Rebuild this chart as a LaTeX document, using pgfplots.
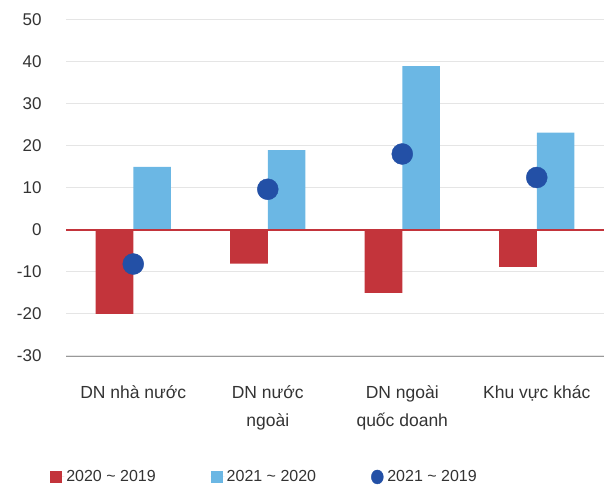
\documentclass[border=0pt]{standalone}
\usepackage{pgfplots}
\pgfplotsset{compat=1.18}
\usepackage{fontspec}
\setmainfont{Liberation Sans}
\definecolor{cred}{HTML}{C3343B}
\definecolor{cblue}{HTML}{6BB7E4}
\definecolor{cdot}{HTML}{2350A6}
\definecolor{ctext}{HTML}{333333}
\begin{document}
\begin{tikzpicture}[x=1bp,y=1bp]
\path[use as bounding box] (0,0) rectangle (604,485);
\begin{axis}[
  at={(66bp,129bp)}, anchor=south west,
  scale only axis, width=538bp, height=336bp,
  xmin=-0.5, xmax=3.5, ymin=-30, ymax=50,
  ytick={-30,-20,...,50},
  xtick={0,1,2,3},
  xticklabels={DN nhà nước, DN nước\\ngoài, DN ngoài\\quốc doanh, Khu vực khác},
  xticklabel style={align=center, yshift=-26bp, font=\fontsize{17.5bp}{28bp}\selectfont, text=ctext, anchor=north},
  yticklabel style={xshift=-21bp, font=\fontsize{17bp}{19bp}\selectfont, text=ctext},
  /pgf/number format/assume math mode=true,
  major tick length=0pt,
  axis y line*=left,
  y axis line style={draw=none},
  axis x line*=bottom,
  x axis line style={draw=gray!80, -},
  ymajorgrids,
  grid style={draw=black!10, line width=1bp},
  legend columns=3,
  legend style={draw=none, inner sep=1bp, at={(0.369,-0.36)}, anchor=center,
    font=\fontsize{16bp}{19bp}\selectfont, text=ctext,
    /tikz/every even column/.append style={column sep=53bp}},
  legend image code/.code={\fill[#1] (0bp,-6bp) rectangle (12bp,6bp); \path[draw=none] (0bp,0bp) -- (14bp,0bp);},
]
\addplot[ybar, bar width=0.28, bar shift=0pt, fill=cred, draw=none]
  coordinates {(-0.14,-20) (0.86,-8) (1.86,-15) (2.86,-8.8)};
\addlegendentry{2020 \textasciitilde{} 2019}
\addplot[ybar, bar width=0.28, bar shift=0pt, fill=cblue, draw=none]
  coordinates {(0.14,15) (1.14,19) (2.14,39) (3.14,23.2)};
\addlegendentry{2021 \textasciitilde{} 2020}
\draw[cred, line width=1.2bp] (axis cs:-0.5,0) -- (axis cs:3.5,0);
\addplot[only marks, mark=*, mark size=10.5bp, color=cdot,
  legend image code/.code={\fill[cdot] (6bp,0bp) ellipse (6bp and 7bp); \path[draw=none] (0bp,0bp) -- (14bp,0bp);}]
  coordinates {(0,-8.1) (1,9.7) (2,18.1) (3,12.5)};
\addlegendentry{2021 \textasciitilde{} 2019}
\end{axis}
\end{tikzpicture}
\end{document}
